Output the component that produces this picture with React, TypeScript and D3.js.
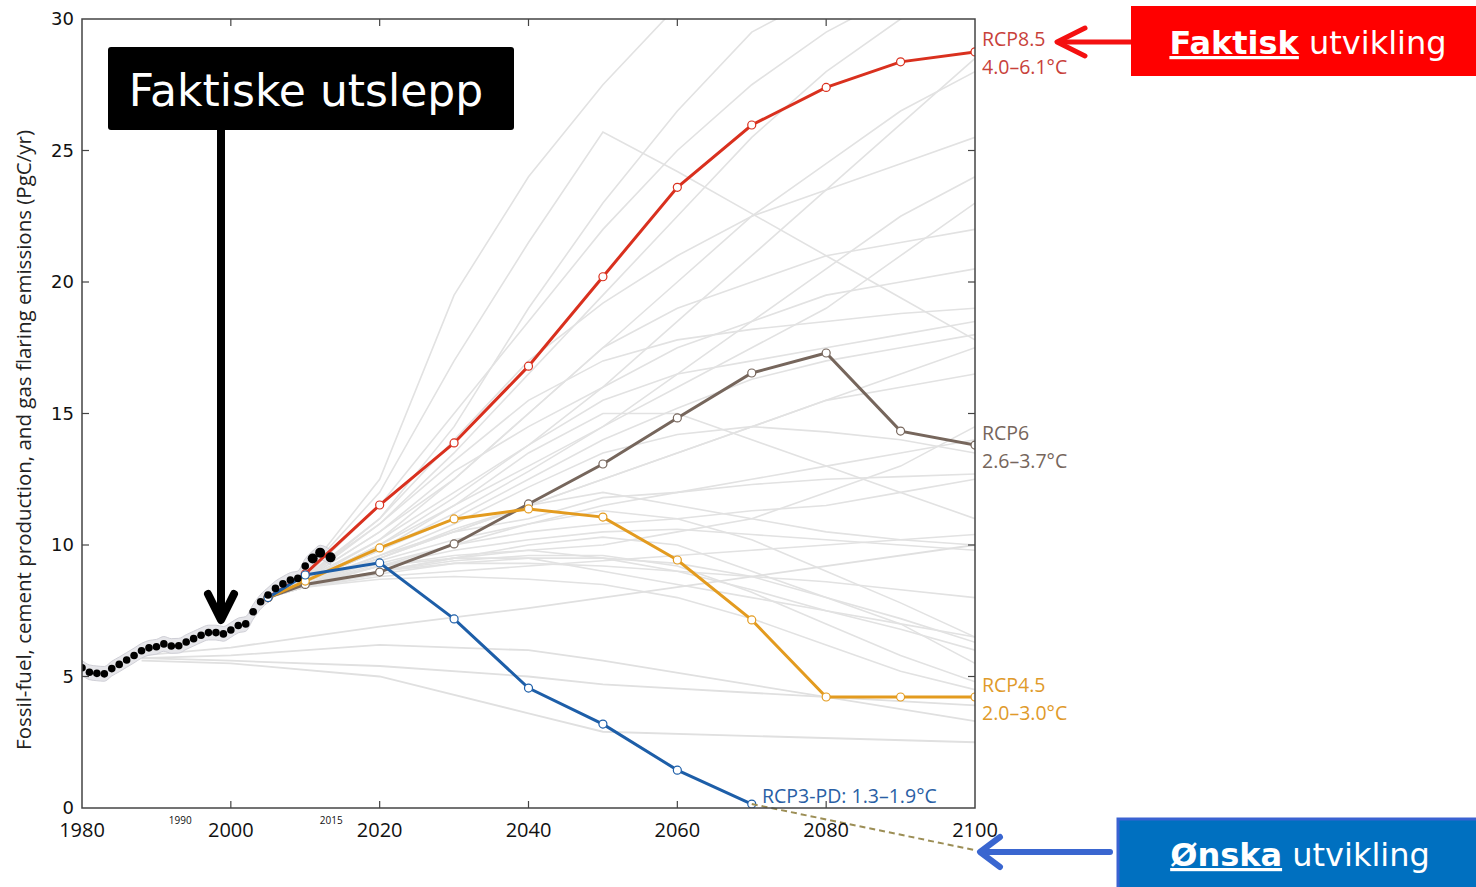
import * as d3 from "d3";

// historical fossil-fuel + cement emissions (PgC/yr)
const histYears = [1980, 1981, 1982, 1983, 1984, 1985, 1986, 1987, 1988, 1989, 1990, 1991, 1992, 1993, 1994, 1995, 1996, 1997, 1998, 1999, 2000, 2001, 2002, 2003, 2004, 2005, 2006, 2007, 2008, 2009, 2010, 2011, 2012, 2013.4];
const histValues = [5.33, 5.16, 5.12, 5.1, 5.3, 5.46, 5.63, 5.8, 5.98, 6.09, 6.13, 6.24, 6.16, 6.17, 6.31, 6.44, 6.57, 6.67, 6.67, 6.62, 6.77, 6.94, 7.0, 7.46, 7.84, 8.1, 8.35, 8.52, 8.67, 8.73, 9.2, 9.49, 9.71, 9.53];

// RCP pathways
const rcpYears = [2005, 2010, 2020, 2030, 2040, 2050, 2060, 2070, 2080, 2090, 2100];
const rcp85 = [8.0, 8.9, 11.52, 13.88, 16.8, 20.2, 23.6, 25.97, 27.4, 28.37, 28.75];
const rcp6 = [8.0, 8.5, 8.97, 10.04, 11.56, 13.08, 14.83, 16.54, 17.3, 14.33, 13.8];
const rcp45 = [8.0, 8.63, 9.89, 10.99, 11.37, 11.06, 9.43, 7.15, 4.22, 4.22, 4.22];
const rcp3Years = [2005, 2010, 2020, 2030, 2040, 2050, 2060, 2070];
const rcp3 = [8.0, 8.86, 9.32, 7.19, 4.56, 3.19, 1.44, 0.15];
const wishYears = [2070, 2100];
const wishValues = [0.15, -1.6];

// other scenarios (grey)
const greyYears = rcpYears;
const greyScenarios = [
  [8.0, 8.9, 12.5, 19.5, 24, 27.5, 30.5, 32, 33, 34, 35],
  [8.0, 8.9, 12, 17, 21.5, 25.7, 24.2, 22.6, 21, 19.4, 17.8],
  [8.0, 8.8, 11, 14.5, 19, 23, 26.5, 29.5, 31, 32, 33],
  [8.0, 8.8, 10.8, 13.5, 16.5, 19.5, 22.5, 25.5, 28, 30, 31.5],
  [8.0, 8.7, 10.5, 12.5, 15, 17.5, 20, 22.5, 24.5, 26.5, 28],
  [8.0, 8.7, 10.5, 12.8, 14.5, 16, 17.5, 18.5, 19.5, 20, 20.5],
  [8.0, 8.6, 10, 11.5, 13, 14.5, 16, 17.5, 19, 21, 23],
  [8.0, 8.7, 10.2, 12, 13.8, 15.5, 16.5, 17, 17.5, 18, 18.5],
  [8.0, 8.6, 9.8, 11, 12.5, 14, 15.2, 16.3, 17, 17.5, 18],
  [8.0, 8.6, 9.8, 11.5, 13.5, 15, 15, 14, 13, 12, 11],
  [8.0, 8.6, 9.6, 10.5, 11.5, 12.5, 13.5, 14.5, 15.5, 16.5, 17.5],
  [8.0, 8.6, 9.5, 10.5, 11, 11.8, 12, 12.3, 12.5, 12.6, 12.7],
  [8.0, 8.5, 9.4, 10.2, 10.8, 11.5, 12, 12.5, 13, 13.5, 14],
  [8.0, 8.5, 9.2, 9.8, 10.2, 10.5, 10.6, 10.4, 10.2, 10, 9.8],
  [8.0, 8.5, 9.5, 10.5, 11.5, 12, 11.5, 11, 10.5, 10.2, 10],
  [8.0, 8.5, 9.2, 9.6, 9.8, 10, 10.5, 11, 12, 13, 14.5],
  [8.0, 8.5, 9.0, 9.3, 9.3, 9.2, 9.0, 8.8, 8.6, 8.3, 8.0],
  [8.0, 8.4, 9.0, 9.5, 9.8, 9.5, 9.0, 8.3, 7.5, 6.8, 6.0],
  [8.0, 8.4, 8.8, 9.0, 9.2, 9.4, 9.6, 9.8, 10, 10.2, 10.4],
  [8.0, 8.4, 8.7, 8.8, 8.7, 8.5, 8.0, 7.2, 6.2, 5.2, 4.5],
  [8.0, 8.4, 9.2, 10.0, 10.8, 11.3, 11, 10.2, 9, 7.8, 6.5],
  [8.0, 8.5, 9.6, 10.8, 12.2, 13.5, 14.2, 14.5, 14.3, 14, 13.5],
  [8.0, 8.6, 10.2, 12.5, 15, 17.5, 19, 20, 21, 21.5, 22],
  [8.0, 8.7, 11, 14, 17, 19.2, 21, 22.5, 23.5, 24.5, 25.5],
  [8.0, 8.7, 10.8, 13.2, 15.5, 17, 17.8, 18.2, 18.5, 18.8, 19],
  [8.0, 8.5, 9.3, 10, 10.5, 10.8, 11, 11.3, 11.5, 12, 12.5],
  [8.0, 8.4, 8.9, 9.3, 9.5, 9.5, 9.3, 8.8, 8.0, 7.2, 6.3],
  [8.0, 8.4, 9.0, 9.5, 10.0, 10.3, 10, 9, 8, 7, 5.5],
  [8.0, 8.5, 9.5, 10.6, 11.5, 12.5, 13.5, 14.5, 15.5, 16, 16.5],
  [8.0, 8.6, 10.0, 11.8, 13.8, 16, 18.5, 21, 23.5, 26, 28.5],
  [8.0, 8.8, 11.5, 15, 18.5, 22, 25, 27.5, 29.5, 31, 32],
  [8.0, 8.6, 9.8, 11.2, 12.8, 14.5, 16.5, 18.5, 20.5, 22.5, 24],
  [8.0, 8.5, 9.2, 9.5, 9.5, 9.0, 8.5, 8.0, 7.5, 7.0, 6.5],
  [8.0, 8.4, 9.0, 9.4, 9.6, 9.6, 9.2, 8.2, 7, 5.8, 4.8],
];
const oldYears = [1988, 2000, 2020, 2040, 2050, 2100];
const oldScenarios = [
  [5.6, 5.5, 5.0, 3.6, 2.9, 2.5],
  [5.7, 5.8, 6.2, 6.0, 5.6, 3.3],
  [5.8, 6.1, 6.9, 7.6, 8.0, 10.0],
  [5.7, 5.6, 5.4, 5.0, 4.7, 3.9],
];

const xTicks = [1980, 2000, 2020, 2040, 2060, 2080, 2100];
const yTicks = [0, 5, 10, 15, 20, 25, 30];
// small year labels, placed where the original has them
const smallLabels = ["1990", "2015"];
const smallLabelYears = [1993.2, 2013.5];

const x = d3.scaleLinear([1980, 2100], [82, 975]);
const y = d3.scaleLinear([0, 30], [808, 19]);

const line = d3.line<[number, number]>().x(d => x(d[0])).y(d => y(d[1]));
const pairs = (ys: number[], vs: number[]) => ys.map((yr, i) => [yr, vs[i]] as [number, number]);

const rcps = [
  { vals: rcp85, years: rcpYears, color: "#d9301e" },
  { vals: rcp6, years: rcpYears, color: "#76665c" },
  { vals: rcp45, years: rcpYears, color: "#e39b1f" },
  { vals: rcp3, years: rcp3Years, color: "#1d5ea8" },
];

const band = d3.area<[number, number]>()
  .x(d => x(d[0])).y0(d => y(d[1] - 0.28)).y1(d => y(d[1] + 0.28)).curve(d3.curveMonotoneX);

export default function App() {
  const [x0, x1] = x.range();
  const [y0, y1] = y.range();
  const hist = pairs(histYears, histValues);
  const font = "'Open Sans', sans-serif";
  return (
    <svg width={1476} height={887} style={{ position: "absolute", left: 0, top: 0, background: "#fff" }}>
      <defs>
        <clipPath id="plot"><rect x={x0} y={y1} width={x1 - x0} height={y0 - y1} /></clipPath>
      </defs>
      <g clipPath="url(#plot)" fill="none">
        {greyScenarios.map((s, i) => (
          <path key={i} d={line(pairs(greyYears, s)) || ""} stroke="#e2e2e2" strokeWidth={1.6} />
        ))}
        {oldScenarios.map((s, i) => (
          <path key={"o" + i} d={line(pairs(oldYears, s)) || ""} stroke="#e0e0e0" strokeWidth={1.8} />
        ))}
        <path d={band(hist) || ""} fill="#e6e6ea" stroke="#cfcfd6" strokeWidth={1} />
        {rcps.map((r, i) => (
          <path key={i} d={line(pairs(r.years, r.vals)) || ""} stroke={r.color} strokeWidth={3} />
        ))}
        {rcps.map((r, i) => (
          <g key={"c" + i}>
            {r.years.map((yr, j) => (
              <circle key={j} cx={x(yr)} cy={y(r.vals[j])} r={4} fill="#fff" stroke={r.color} strokeWidth={1.2} />
            ))}
          </g>
        ))}
        {hist.map((d, i) => (
          <circle key={i} cx={x(d[0])} cy={y(d[1])} r={i >= hist.length - 3 ? 5 : 3.8} fill="#000" />
        ))}
      </g>
      {/* wished-for path below zero */}
      <path d={line(pairs(wishYears, wishValues)) || ""} stroke="#9c8e55" strokeWidth={2} strokeDasharray="6,4" fill="none" />

      {/* frame and ticks */}
      <rect x={x0} y={y1} width={x1 - x0} height={y0 - y1} fill="none" stroke="#444" strokeWidth={1.5} />
      {xTicks.slice(1, -1).map(t => (
        <g key={t} stroke="#444" strokeWidth={1.2}>
          <line x1={x(t)} x2={x(t)} y1={y0} y2={y0 - 7} />
          <line x1={x(t)} x2={x(t)} y1={y1} y2={y1 + 7} />
        </g>
      ))}
      {yTicks.slice(1, -1).map(t => (
        <g key={t} stroke="#444" strokeWidth={1.2}>
          <line x1={x0} x2={x0 + 7} y1={y(t)} y2={y(t)} />
          <line x1={x1} x2={x1 - 7} y1={y(t)} y2={y(t)} />
        </g>
      ))}
      {xTicks.map(t => (
        <text key={t} x={x(t)} y={837} textAnchor="middle" fontFamily={font} fontSize={20} fill="#111">{t}</text>
      ))}
      {smallLabels.map((t, i) => (
        <text key={t} x={x(smallLabelYears[i])} y={824} textAnchor="middle" fontFamily={font} fontSize={10} fill="#111">{t}</text>
      ))}
      {yTicks.map(t => (
        <text key={t} x={74} y={y(t) + 6} textAnchor="end" fontFamily="'DejaVu Sans', sans-serif" fontSize={18} fill="#111">{t}</text>
      ))}
      <text transform="translate(31,440) rotate(-90)" textAnchor="middle" fontFamily={font} fontSize={20.5} fill="#222">
        Fossil-fuel, cement production, and gas flaring emissions (PgC/yr)
      </text>

      {/* RCP labels */}
      <g fontFamily={font} fontSize={19.5}>
        <text x={982} y={46} fill="#c8413a">RCP8.5</text>
        <text x={982} y={74} fill="#c8413a">4.0–6.1°C</text>
        <text x={982} y={440} fill="#76665c">RCP6</text>
        <text x={982} y={468} fill="#76665c">2.6–3.7°C</text>
        <text x={982} y={692} fill="#e09a2a">RCP4.5</text>
        <text x={982} y={720} fill="#e09a2a">2.0–3.0°C</text>
        <text x={762} y={803} fill="#2a5fa5">RCP3-PD: 1.3–1.9°C</text>
      </g>

      {/* black annotation */}
      <rect x={108} y={47} width={406} height={83} rx={3} fill="#000" />
      <text x={306} y={106} textAnchor="middle" fontFamily="'DejaVu Sans', sans-serif" fontSize={44} fill="#fff">Faktiske utslepp</text>
      <line x1={221} x2={221} y1={128} y2={620} stroke="#000" strokeWidth={8} />
      <polyline points="208,594 221,620 234,594" fill="none" stroke="#000" strokeWidth={8} strokeLinecap="round" strokeLinejoin="round" />

      {/* red annotation */}
      <rect x={1131} y={6} width={345} height={70} fill="#ff0000" />
      <text x={1308} y={54} textAnchor="middle" fontFamily="'DejaVu Sans', sans-serif" fontSize={32} fill="#fff">
        <tspan fontWeight="bold" textDecoration="underline">Faktisk</tspan> utvikling
      </text>
      <line x1={1131} x2={1060} y1={42} y2={42} stroke="#f41010" strokeWidth={5} />
      <polyline points="1085,28 1057,42 1085,56" fill="none" stroke="#f41010" strokeWidth={5} strokeLinecap="round" strokeLinejoin="round" />

      {/* blue annotation */}
      <rect x={1118} y={819} width={360} height={70} fill="#0070c0" stroke="#3a62d2" strokeWidth={3} />
      <text x={1300} y={866} textAnchor="middle" fontFamily="'DejaVu Sans', sans-serif" fontSize={32} fill="#fff">
        <tspan fontWeight="bold" textDecoration="underline">Ønska</tspan> utvikling
      </text>
      <line x1={1110} x2={982} y1={852} y2={852} stroke="#3a66d0" strokeWidth={6} strokeLinecap="round" />
      <polyline points="1000,837 980,852 1000,867" fill="none" stroke="#3a66d0" strokeWidth={6} strokeLinecap="round" strokeLinejoin="round" />
    </svg>
  );
}
